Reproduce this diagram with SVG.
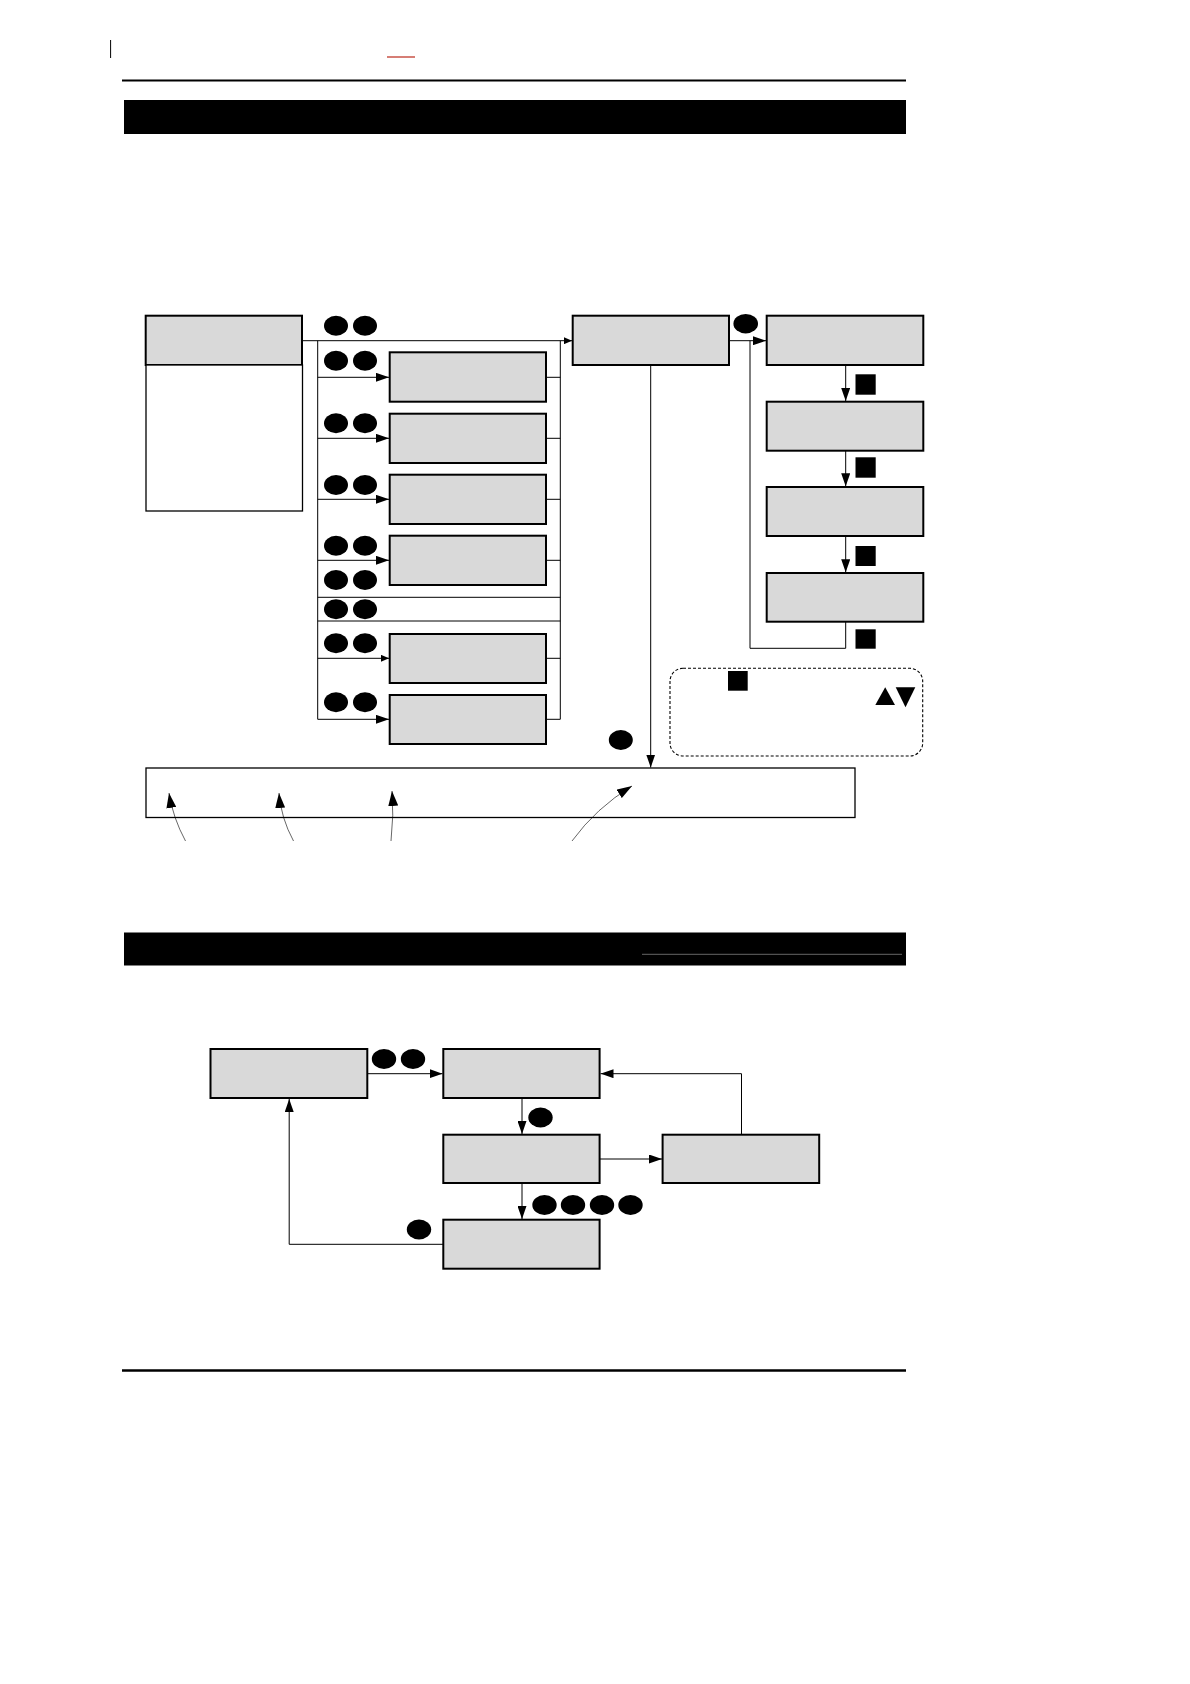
<svg xmlns="http://www.w3.org/2000/svg" width="1190" height="1684" viewBox="0 0 1190 1684">
<style>
.box{fill:#d9d9d9;stroke:#000;stroke-width:2}
.plain{fill:#fff;stroke:#000;stroke-width:1.3}
.open{fill:none;stroke:#000;stroke-width:1.3}
.ln{fill:none;stroke:#000;stroke-width:1}
.thin{fill:none;stroke:#000;stroke-width:0.6}
.dash{fill:none;stroke:#000;stroke-width:1.1;stroke-dasharray:3 2}
.blk{fill:#000}
</style>
<defs>
<marker id="ah" markerUnits="userSpaceOnUse" markerWidth="13" markerHeight="9" viewBox="0 0 13 9" refX="13" refY="4.5" orient="auto"><path d="M0,0 L13,4.5 L0,9 Z" fill="#000"/></marker>
<marker id="as" markerUnits="userSpaceOnUse" markerWidth="8" markerHeight="7" viewBox="0 0 8 7" refX="8" refY="3.5" orient="auto"><path d="M0,0 L8,3.5 L0,7 Z" fill="#000"/></marker>
<marker id="ac" markerUnits="userSpaceOnUse" markerWidth="15" markerHeight="10" viewBox="0 0 15 10" refX="15" refY="5" orient="auto"><path d="M0,0 L15,5 L0,10 Z" fill="#000"/></marker>
</defs>
<rect x="0" y="0" width="1190" height="1684" fill="#fff"/>

<g id="page">
<line x1="110.6" y1="40" x2="110.6" y2="58" stroke="#000" stroke-width="1"/>
<line x1="387" y1="57" x2="415" y2="57" stroke="#c0392b" stroke-width="1.3"/>
<line x1="122" y1="80.5" x2="906" y2="80.5" stroke="#000" stroke-width="2"/>
<rect class="blk" x="124" y="100" width="782" height="34"/>
<rect class="blk" x="124" y="932.5" width="782" height="33"/>
<line x1="642" y1="954.3" x2="902" y2="954.3" stroke="#666" stroke-width="1"/>
<line x1="122" y1="1370.5" x2="906" y2="1370.5" stroke="#000" stroke-width="2.7"/>
</g>

<g id="nodeA"><rect class="box" x="145.7" y="315.7" width="156.3" height="49.3"/></g>
<g id="nodeA-list"><rect class="plain" x="146" y="365" width="156.5" height="146"/></g>
<g id="row1"><rect class="box" x="389.7" y="352.3" width="156.3" height="49.4"/></g>
<g id="row2"><rect class="box" x="389.7" y="413.7" width="156.3" height="49.3"/></g>
<g id="row3"><rect class="box" x="389.7" y="474.7" width="156.3" height="49.3"/></g>
<g id="row4"><rect class="box" x="389.7" y="535.7" width="156.3" height="49.3"/></g>
<g id="row7"><rect class="box" x="389.7" y="634" width="156.3" height="49"/></g>
<g id="row8"><rect class="box" x="389.7" y="695" width="156.3" height="49"/></g>
<g id="nodeB"><rect class="box" x="572.7" y="315.7" width="156.3" height="49.3"/></g>
<g id="nodeC1"><rect class="box" x="766.7" y="315.7" width="156.6" height="49.3"/></g>
<g id="nodeC2"><rect class="box" x="766.7" y="401.7" width="156.6" height="49"/></g>
<g id="nodeC3"><rect class="box" x="766.7" y="487" width="156.6" height="49"/></g>
<g id="nodeC4"><rect class="box" x="766.7" y="573" width="156.6" height="48.7"/></g>
<g id="note">
<rect class="dash" x="670" y="668.3" width="252.7" height="87.7" rx="13" ry="13"/>
<rect class="blk" x="728" y="671" width="19.7" height="19.7"/>
<polygon class="blk" points="875.3,705 895,705 885.2,687.3"/>
<polygon class="blk" points="895.7,687.3 915.3,687.3 905.5,707.3"/>
</g>
<g id="nodeE"><rect class="open" x="146" y="768" width="709" height="49.5"/></g>

<g id="nodeF"><rect class="box" x="210.5" y="1049" width="156.8" height="49"/></g>
<g id="nodeG"><rect class="box" x="443.3" y="1049" width="156.3" height="49"/></g>
<g id="nodeH"><rect class="box" x="443.3" y="1134.7" width="156.3" height="48.3"/></g>
<g id="nodeI"><rect class="box" x="662.6" y="1134.7" width="156.6" height="48.3"/></g>
<g id="nodeJ"><rect class="box" x="443.3" y="1219.7" width="156.3" height="49"/></g>

<g id="connectors">
<!-- section 1 -->
<line class="ln" x1="302" y1="340.7" x2="572" y2="340.7" marker-end="url(#as)"/>
<line class="ln" x1="317.7" y1="340.7" x2="317.7" y2="719.3"/>
<line class="ln" x1="560.3" y1="340.7" x2="560.3" y2="719.3"/>
<line class="ln" x1="317.7" y1="377.3" x2="389" y2="377.3" marker-end="url(#ah)"/>
<line class="ln" x1="317.7" y1="438.3" x2="389" y2="438.3" marker-end="url(#ah)"/>
<line class="ln" x1="317.7" y1="499.3" x2="389" y2="499.3" marker-end="url(#ah)"/>
<line class="ln" x1="317.7" y1="560.3" x2="389" y2="560.3" marker-end="url(#ah)"/>
<line class="ln" x1="317.7" y1="658.3" x2="389" y2="658.3" marker-end="url(#as)"/>
<line class="ln" x1="317.7" y1="719.3" x2="389" y2="719.3" marker-end="url(#ah)"/>
<line class="ln" x1="546" y1="377.3" x2="560.3" y2="377.3"/>
<line class="ln" x1="546" y1="438.3" x2="560.3" y2="438.3"/>
<line class="ln" x1="546" y1="499.3" x2="560.3" y2="499.3"/>
<line class="ln" x1="546" y1="560.3" x2="560.3" y2="560.3"/>
<line class="ln" x1="546" y1="658.3" x2="560.3" y2="658.3"/>
<line class="ln" x1="546" y1="719.3" x2="560.3" y2="719.3"/>
<line class="ln" x1="317.7" y1="597.3" x2="560.3" y2="597.3"/>
<line class="ln" x1="317.7" y1="621" x2="560.3" y2="621"/>
<line class="ln" x1="729" y1="340.7" x2="766" y2="340.7" marker-end="url(#ah)"/>
<polyline class="ln" points="750,340.7 750,648.3 845.7,648.3 845.7,621.7"/>
<line class="ln" x1="845.7" y1="365" x2="845.7" y2="401" marker-end="url(#ah)"/>
<line class="ln" x1="845.7" y1="450.7" x2="845.7" y2="486.3" marker-end="url(#ah)"/>
<line class="ln" x1="845.7" y1="536" x2="845.7" y2="572.3" marker-end="url(#ah)"/>
<line class="ln" x1="650.7" y1="365" x2="650.7" y2="767.5" marker-end="url(#ah)"/>
<path class="thin" d="M185.5,841 Q173,818 169,793" marker-end="url(#ac)"/>
<path class="thin" d="M293.5,841 Q281,818 279,793" marker-end="url(#ac)"/>
<path class="thin" d="M391,841 Q394,815 392,791" marker-end="url(#ac)"/>
<path class="thin" d="M572,841 Q596,808 632,786" marker-end="url(#ac)"/>
<!-- section 2 -->
<line class="ln" x1="367.3" y1="1073.7" x2="442.5" y2="1073.7" marker-end="url(#ah)"/>
<line class="ln" x1="522" y1="1098" x2="522" y2="1134" marker-end="url(#ah)"/>
<line class="ln" x1="599.6" y1="1159" x2="662" y2="1159" marker-end="url(#ah)"/>
<polyline class="ln" points="741.5,1134.7 741.5,1073.7 600.5,1073.7" marker-end="url(#ah)"/>
<line class="ln" x1="522" y1="1183" x2="522" y2="1219" marker-end="url(#ah)"/>
<polyline class="ln" points="443.3,1244.3 289.2,1244.3 289.2,1099" marker-end="url(#ah)"/>
</g>

<g id="keys1">
<ellipse class="blk" cx="336" cy="325.7" rx="12" ry="10"/><ellipse class="blk" cx="365" cy="325.7" rx="12" ry="10"/>
<ellipse class="blk" cx="336" cy="360.7" rx="12" ry="10"/><ellipse class="blk" cx="365" cy="360.7" rx="12" ry="10"/>
<ellipse class="blk" cx="336" cy="423.3" rx="12" ry="10"/><ellipse class="blk" cx="365" cy="423.3" rx="12" ry="10"/>
<ellipse class="blk" cx="336" cy="485" rx="12" ry="10"/><ellipse class="blk" cx="365" cy="485" rx="12" ry="10"/>
<ellipse class="blk" cx="336" cy="545.7" rx="12" ry="10"/><ellipse class="blk" cx="365" cy="545.7" rx="12" ry="10"/>
<ellipse class="blk" cx="336" cy="580" rx="12" ry="10"/><ellipse class="blk" cx="365" cy="580" rx="12" ry="10"/>
<ellipse class="blk" cx="336" cy="609.3" rx="12" ry="10"/><ellipse class="blk" cx="365" cy="609.3" rx="12" ry="10"/>
<ellipse class="blk" cx="336" cy="643.3" rx="12" ry="10"/><ellipse class="blk" cx="365" cy="643.3" rx="12" ry="10"/>
<ellipse class="blk" cx="336" cy="702.3" rx="12" ry="10"/><ellipse class="blk" cx="365" cy="702.3" rx="12" ry="10"/>
<ellipse class="blk" cx="745.7" cy="323.7" rx="12.3" ry="9.7"/>
<ellipse class="blk" cx="620.8" cy="740" rx="12" ry="10"/>
<rect class="blk" x="855.5" y="374.3" width="20.2" height="20.4"/>
<rect class="blk" x="855.5" y="457.3" width="20.2" height="20.4"/>
<rect class="blk" x="855.5" y="546" width="20.2" height="20"/>
<rect class="blk" x="855.5" y="629.3" width="20.2" height="19.4"/>
</g>

<g id="keys2">
<ellipse class="blk" cx="384" cy="1059" rx="12.2" ry="10"/><ellipse class="blk" cx="413" cy="1059" rx="12.2" ry="10"/>
<ellipse class="blk" cx="540.5" cy="1117.5" rx="12.2" ry="10"/>
<ellipse class="blk" cx="544.5" cy="1205" rx="12.2" ry="10"/><ellipse class="blk" cx="573" cy="1205" rx="12.2" ry="10"/>
<ellipse class="blk" cx="602" cy="1205" rx="12.2" ry="10"/><ellipse class="blk" cx="630.5" cy="1205" rx="12.2" ry="10"/>
<ellipse class="blk" cx="419" cy="1229.5" rx="12.2" ry="10"/>
</g>
</svg>
